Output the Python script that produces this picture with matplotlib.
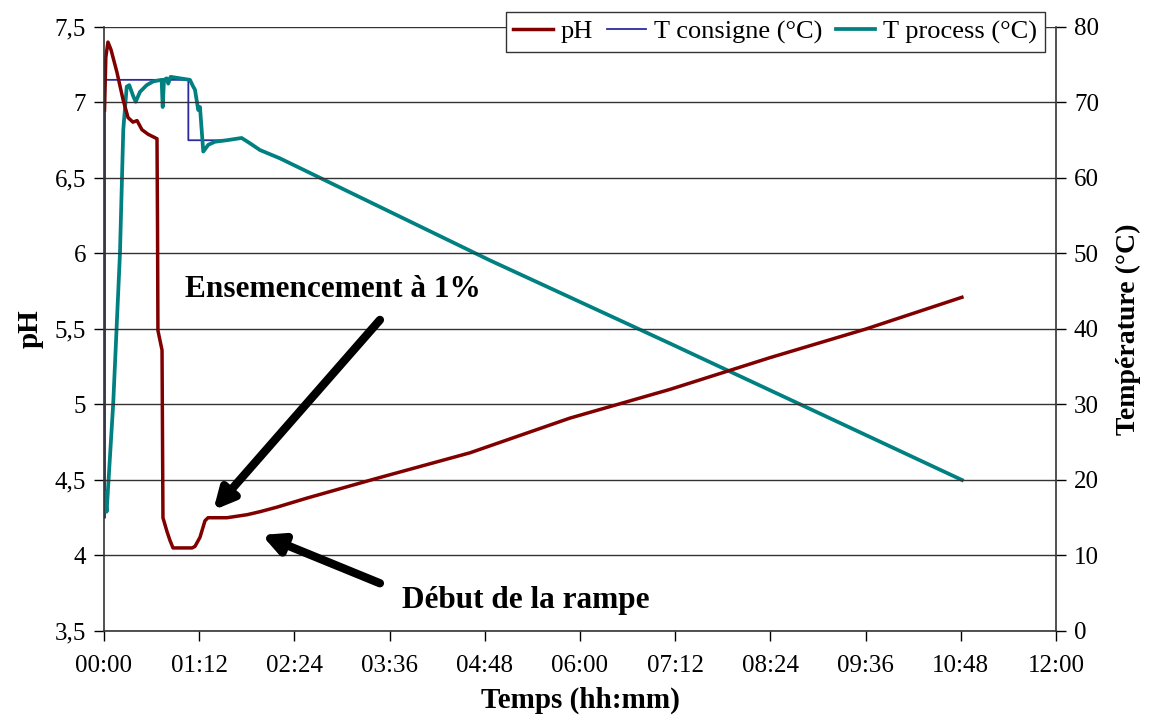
import matplotlib
matplotlib.use("Agg")
import matplotlib.pyplot as plt
from matplotlib.ticker import FuncFormatter, MultipleLocator

plt.rcParams['font.family'] = ['Liberation Serif', 'DejaVu Serif']

# temps en minutes depuis le début de l'essai
t_ph = [0.4, 1.4, 3.0, 5.3, 9.8, 14.4, 18.2, 21.9, 25.0, 28.7, 33.3, 40.1,
        40.5, 40.8, 43.9, 44.6, 47.6, 49.9, 52.2, 66.6, 68.8, 72.6, 76.4,
        78.7, 93.0, 108.2, 118.0, 130.8, 153.5, 206.0, 276.8, 352.5, 428.1,
        503.7, 576.3, 648.9]
ph = [6.95, 7.30, 7.40, 7.35, 7.20, 7.02, 6.90, 6.87, 6.88, 6.82, 6.79, 6.76,
      6.16, 5.49, 5.36, 4.25, 4.16, 4.10, 4.05, 4.05, 4.06, 4.12, 4.23,
      4.25, 4.25, 4.27, 4.29, 4.32, 4.38, 4.51, 4.68, 4.91, 5.10,
      5.31, 5.50, 5.71]

t_consigne = [0.0, 0.8, 0.8, 63.8, 63.8, 92.8, 104.1, 110.4, 118.0, 133.1,
              291.8, 427.9, 648.9]
T_consigne = [15.0, 15.0, 73.0, 73.0, 65.0, 65.0, 65.3, 64.6, 63.7, 62.6,
              49.1, 38.1, 20.0]

t_process = [0.76, 2.0, 7.0, 12.1, 14.6, 17.2, 19.1, 22.2, 24.0, 27.2, 32.3,
             37.3, 43.6, 44.4, 45.4, 47.4, 48.6, 50.4, 57.5, 65.0, 67.5,
             68.8, 71.3, 72.6, 75.1, 78.9, 83.9, 92.8, 104.1, 110.4, 118.0,
             133.1, 291.8, 427.9, 648.9]
T_process = [18.3, 15.8, 30.2, 50.1, 66.4, 72.1, 72.3, 70.8, 70.1, 71.4, 72.3,
             72.8, 73.0, 69.4, 73.0, 73.2, 72.5, 73.4, 73.2, 73.0, 72.1,
             71.7, 69.0, 69.4, 63.5, 64.4, 64.8, 65.0, 65.3, 64.6, 63.7,
             62.6, 49.1, 38.1, 20.0]

xticks = list(range(0, 721, 72))
yticks_ph = [3.5, 4, 4.5, 5, 5.5, 6, 6.5, 7, 7.5]

fig = plt.figure(figsize=(11.49, 7.18), dpi=100)
ax = fig.add_axes([0.0905, 0.1212, 0.8285, 0.8412])
ax2 = ax.twinx()

l1, = ax.plot(t_ph, ph, color='#800000', lw=2.5, label='pH')
l2, = ax2.plot(t_consigne, T_consigne, color='#2b2ba0', lw=1.3, label='T consigne (°C)')
l3, = ax2.plot(t_process, T_process, color='#008080', lw=2.7, label='T process (°C)')

ax.set_xlim(0, 720)
ax.set_ylim(3.5, 7.5)
ax2.set_ylim(0, 80)
ax.set_xticks(xticks)
ax.set_yticks(yticks_ph)
ax2.yaxis.set_major_locator(MultipleLocator(10))

ax.xaxis.set_major_formatter(FuncFormatter(lambda v, p: "%02d:%02d" % (v // 60, v % 60)))
ax.yaxis.set_major_formatter(FuncFormatter(lambda v, p: ("%g" % v).replace('.', ',')))

for a in (ax, ax2):
    for s in a.spines.values():
        s.set_visible(False)
    a.tick_params(labelsize=18, length=7, width=1, color='black', direction='out', pad=6)
ax.tick_params(axis='x', pad=10)
ax.spines['left'].set_visible(True)
ax.spines['bottom'].set_visible(True)
ax2.spines['right'].set_visible(True)
for s in (ax.spines['left'], ax.spines['bottom'], ax2.spines['right']):
    s.set_color('#333333')
    s.set_linewidth(1.2)

ax.yaxis.grid(True, color='#333333', lw=1)
ax.set_axisbelow(True)
ax2.set_zorder(ax.zorder + 1)
ax2.patch.set_visible(False)
# courbe pH au-dessus de la température
ax.set_zorder(ax2.zorder + 1)
ax.patch.set_visible(False)

ax.set_ylabel('pH', fontsize=21, fontweight='bold', labelpad=8)
ax2.set_ylabel('Température (°C)', fontsize=20, fontweight='bold', labelpad=12)
ax.set_xlabel('Temps (hh:mm)', fontsize=21, fontweight='bold', labelpad=7)

arrow = dict(arrowstyle='-|>,head_length=1.2,head_width=0.6',
             color='black', lw=6, shrinkA=0, shrinkB=0)
ax.annotate('', xy=(82.7, 4.30), xytext=(208.7, 5.56), arrowprops=arrow)
ax.annotate('', xy=(119.3, 4.136), xytext=(208.7, 3.816), arrowprops=arrow)
ax.text(173, 5.714, 'Ensemencement à 1%', fontsize=22.5, fontweight='bold', ha='center', va='baseline')
ax.text(319, 3.652, 'Début de la rampe', fontsize=22.5, fontweight='bold', ha='center', va='baseline')

leg = fig.legend(handles=[l1, l2, l3], loc='upper right', bbox_to_anchor=(1045 / 1149, 1 - 12 / 718),
                 ncol=3, fontsize=19, frameon=True, fancybox=False, framealpha=1,
                 handlelength=1.5, handletextpad=0.3, columnspacing=0.5,
                 borderpad=0.3, borderaxespad=0)
leg.get_frame().set_edgecolor('#333333')
leg.get_frame().set_linewidth(1)

fig.savefig('out.png', dpi=100)
